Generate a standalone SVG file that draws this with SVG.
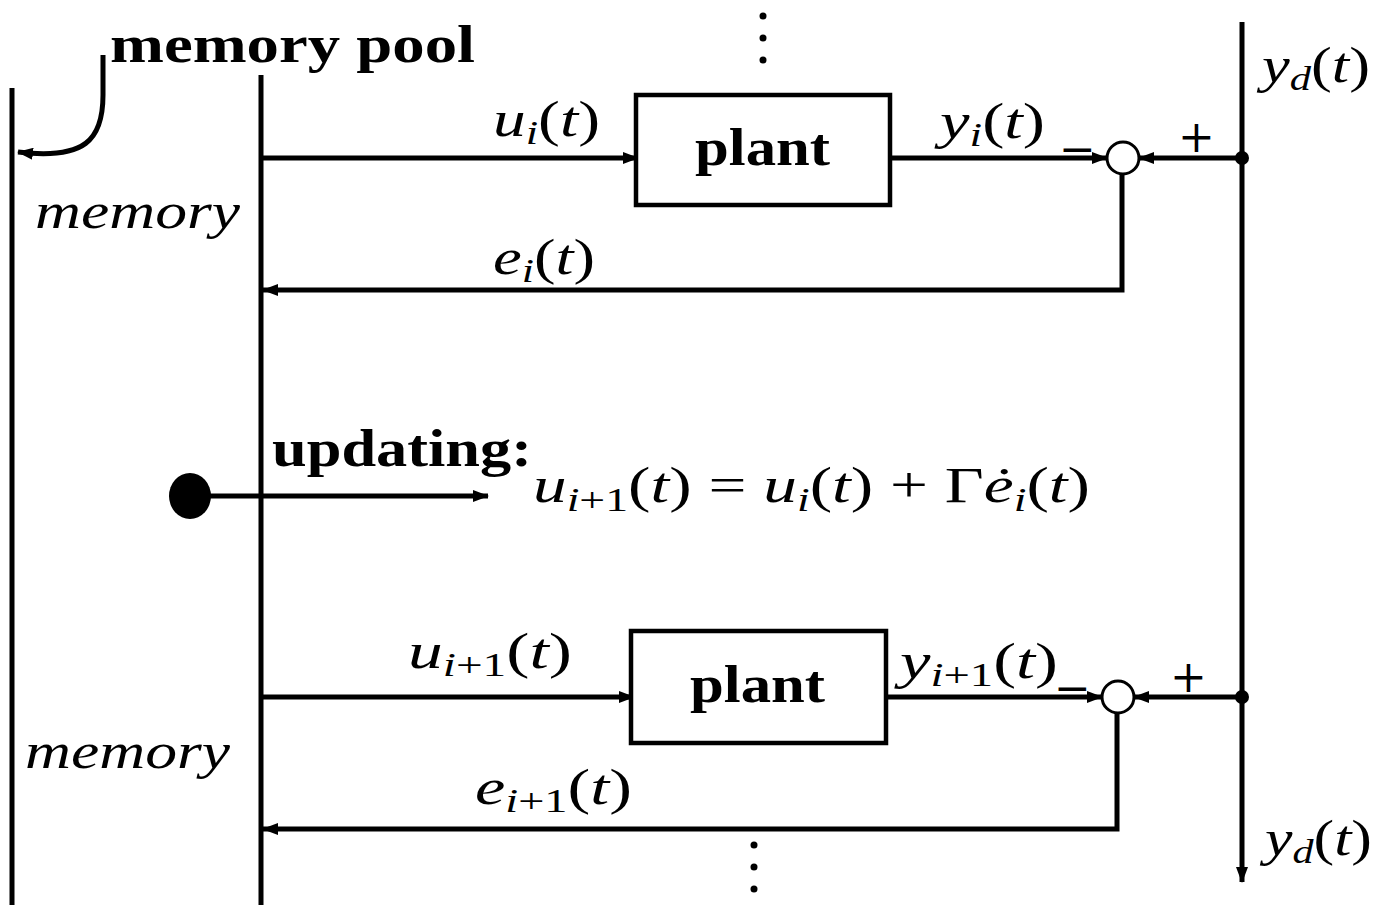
<svg xmlns="http://www.w3.org/2000/svg" width="1377" height="905" viewBox="0 0 1377 905">
<style>
.ln{stroke:#000;stroke-width:5;fill:none}
.box{stroke:#000;stroke-width:4.5;fill:#fff}
.sum{stroke:#000;stroke-width:3;fill:#fff}
.m{font-family:"Liberation Serif",serif;font-style:italic;font-size:50px;fill:#000}
.r{font-style:normal}
.b{font-family:"Liberation Serif",serif;font-weight:bold;font-size:52px;fill:#000}
.sub{font-size:34px}
.op{font-family:"DejaVu Serif",serif;font-size:44px;fill:#000}
</style>
<defs>
<marker id="ah" markerUnits="userSpaceOnUse" markerWidth="16" markerHeight="12" refX="15" refY="6" orient="auto">
<path d="M0,0 L16,6 L0,12 z" fill="#000"/>
</marker>
</defs>
<g id="connectors">
<line class="ln" x1="12" y1="88" x2="12" y2="905"/>
<line class="ln" x1="261" y1="75" x2="261" y2="905"/>
<line class="ln" x1="1242" y1="22" x2="1242" y2="882" marker-end="url(#ah)"/>
<path class="ln" d="M103,55 L103,95 C103,140 85,160 18,152" marker-end="url(#ah)"/>
<line class="ln" x1="261" y1="158" x2="638" y2="158" marker-end="url(#ah)"/>
<line class="ln" x1="890" y1="158" x2="1107" y2="158" marker-end="url(#ah)"/>
<line class="ln" x1="1242" y1="158" x2="1139" y2="158" marker-end="url(#ah)"/>
<polyline class="ln" points="1122,174 1122,290 263,290" marker-end="url(#ah)"/>
<line class="ln" x1="190" y1="496" x2="488" y2="496" marker-end="url(#ah)"/>
<line class="ln" x1="261" y1="697" x2="634" y2="697" marker-end="url(#ah)"/>
<line class="ln" x1="886" y1="697" x2="1102" y2="697" marker-end="url(#ah)"/>
<line class="ln" x1="1242" y1="697" x2="1134" y2="697" marker-end="url(#ah)"/>
<polyline class="ln" points="1117,713 1117,829 263,829" marker-end="url(#ah)"/>
</g>
<g id="labels-top">
<text class="b" x="110" y="62" font-size="58" textLength="365" lengthAdjust="spacingAndGlyphs">memory pool</text>
<circle cx="763" cy="16" r="3.5"/>
<circle cx="763" cy="38" r="3.5"/>
<circle cx="763" cy="60" r="3.5"/>
<text class="m" x="35" y="228" textLength="205" lengthAdjust="spacingAndGlyphs">memory</text>
<text class="m" x="1262" y="82" textLength="108" lengthAdjust="spacingAndGlyphs">y<tspan class="sub" dy="8">d</tspan><tspan class="r" dy="-8">(</tspan>t<tspan class="r">)</tspan></text>
</g>
<g id="plant1">
<rect class="box" x="636" y="95" width="254" height="110"/>
<text class="b" x="695" y="165" font-size="58" textLength="135" lengthAdjust="spacingAndGlyphs">plant</text>
</g>
<g id="sum1">
<circle class="sum" cx="1123" cy="158" r="16"/>
<text class="op" x="1059" y="164">−</text>
<text class="op" x="1178" y="152">+</text>
<circle cx="1242" cy="158" r="7"/>
</g>
<g id="row1-labels">
<text class="m" x="493" y="136" textLength="107" lengthAdjust="spacingAndGlyphs">u<tspan class="sub" dy="8">i</tspan><tspan class="r" dy="-8">(</tspan>t<tspan class="r">)</tspan></text>
<text class="m" x="940" y="138" textLength="105" lengthAdjust="spacingAndGlyphs">y<tspan class="sub" dy="8">i</tspan><tspan class="r" dy="-8">(</tspan>t<tspan class="r">)</tspan></text>
<text class="m" x="493" y="274" textLength="102" lengthAdjust="spacingAndGlyphs">e<tspan class="sub" dy="8">i</tspan><tspan class="r" dy="-8">(</tspan>t<tspan class="r">)</tspan></text>
</g>
<g id="updating">
<ellipse cx="190" cy="496" rx="21" ry="23"/>
<text class="b" x="272" y="466" textLength="260" lengthAdjust="spacingAndGlyphs">updating:</text>
<text class="m" x="533" y="502" font-size="56" textLength="557" lengthAdjust="spacingAndGlyphs">u<tspan class="sub" font-size="38" dy="9">i<tspan class="r">+1</tspan></tspan><tspan class="r" dy="-9">(</tspan>t<tspan class="r">) = </tspan>u<tspan class="sub" font-size="38" dy="9">i</tspan><tspan class="r" dy="-9">(</tspan>t<tspan class="r">) + Γ</tspan>ė<tspan class="sub" font-size="38" dy="9">i</tspan><tspan class="r" dy="-9">(</tspan>t<tspan class="r">)</tspan></text>
</g>
<g id="plant2">
<rect class="box" x="631" y="631" width="255" height="112"/>
<text class="b" x="690" y="702" font-size="58" textLength="135" lengthAdjust="spacingAndGlyphs">plant</text>
</g>
<g id="sum2">
<circle class="sum" cx="1118" cy="697" r="16"/>
<text class="op" x="1054" y="703">−</text>
<text class="op" x="1170" y="692">+</text>
<circle cx="1242" cy="697" r="7"/>
</g>
<g id="row2-labels">
<text class="m" x="408" y="668" textLength="164" lengthAdjust="spacingAndGlyphs">u<tspan class="sub" dy="8">i<tspan class="r">+1</tspan></tspan><tspan class="r" dy="-8">(</tspan>t<tspan class="r">)</tspan></text>
<text class="m" x="900" y="678" textLength="158" lengthAdjust="spacingAndGlyphs">y<tspan class="sub" dy="8">i<tspan class="r">+1</tspan></tspan><tspan class="r" dy="-8">(</tspan>t<tspan class="r">)</tspan></text>
<text class="m" x="475" y="804" textLength="157" lengthAdjust="spacingAndGlyphs">e<tspan class="sub" dy="8">i<tspan class="r">+1</tspan></tspan><tspan class="r" dy="-8">(</tspan>t<tspan class="r">)</tspan></text>
<text class="m" x="25" y="768" textLength="205" lengthAdjust="spacingAndGlyphs">memory</text>
<text class="m" x="1265" y="855" textLength="107" lengthAdjust="spacingAndGlyphs">y<tspan class="sub" dy="8">d</tspan><tspan class="r" dy="-8">(</tspan>t<tspan class="r">)</tspan></text>
<circle cx="754" cy="845" r="3.5"/>
<circle cx="754" cy="867" r="3.5"/>
<circle cx="754" cy="889" r="3.5"/>
</g>
</svg>
